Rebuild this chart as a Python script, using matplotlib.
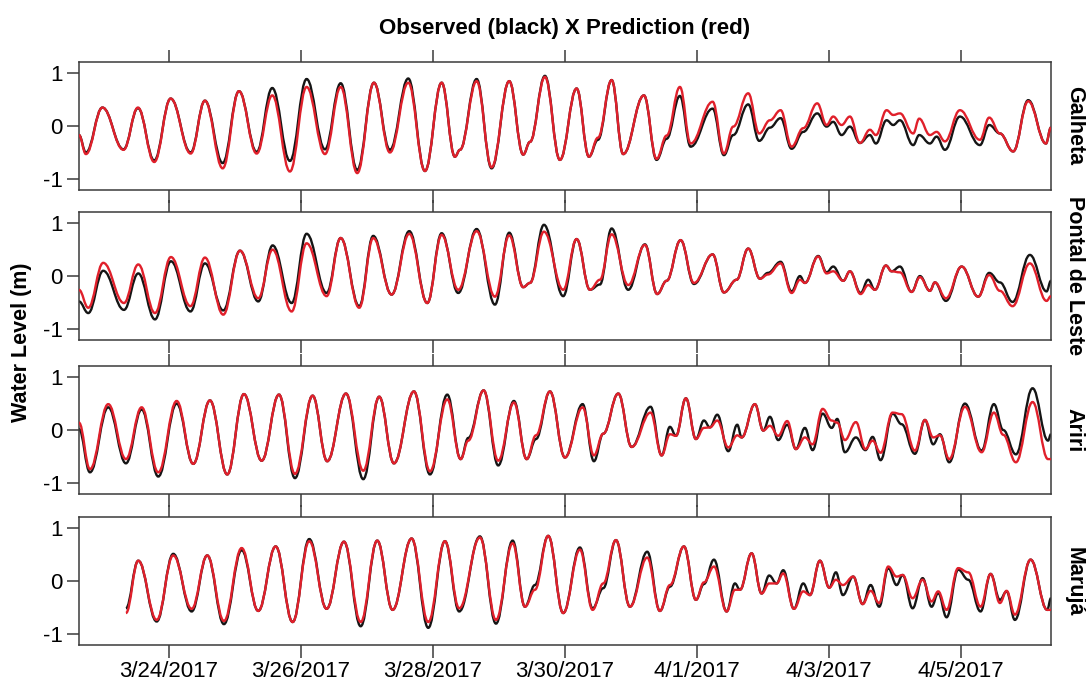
import matplotlib
matplotlib.use("Agg")
import matplotlib.pyplot as plt
import matplotlib.dates as mdates
from matplotlib.path import Path
from matplotlib.patches import PathPatch
from matplotlib.ticker import FixedLocator, FuncFormatter
from datetime import datetime, timedelta

plt.rcParams['font.family'] = ['Liberation Sans', 'DejaVu Sans']
plt.rcParams['axes.unicode_minus'] = False

t0 = datetime(2017, 3, 22)

# turning points of each record, time in days after 3/22/2017 00:00, level in m
galheta_t = [0.636, 0.742, 0.992, 1.311, 1.530, 1.777, 2.026, 2.329, 2.545, 2.814,
             3.061, 3.329, 3.565, 3.833, 4.086, 4.364, 4.602, 4.853, 5.106, 5.348,
             5.626, 5.879, 6.132, 6.333, 6.409, 6.662, 6.889, 7.156, 7.368, 7.470,
             7.697, 7.924, 8.177, 8.364, 8.500, 8.708, 8.883, 9.197, 9.389, 9.541,
             9.742, 9.905, 10.238, 10.409, 10.550, 10.777, 10.944, 11.106, 11.268, 11.435,
             11.611, 11.823, 11.965, 12.065, 12.192, 12.318, 12.470, 12.621, 12.712, 12.874,
             12.974, 13.076, 13.277, 13.368, 13.530, 13.632, 13.758, 13.985, 14.288, 14.429,
             14.591, 14.792, 15.020, 15.288, 15.364]
galheta_obs = [-0.17, -0.50, 0.35, -0.44, 0.34, -0.65, 0.52, -0.50, 0.48, -0.70,
               0.66, -0.49, 0.72, -0.66, 0.89, -0.44, 0.81, -0.83, 0.82, -0.45,
               0.90, -0.85, 0.82, -0.58, -0.45, 0.89, -0.80, 0.85, -0.54, -0.30,
               0.95, -0.64, 0.71, -0.58, -0.26, 0.87, -0.53, 0.58, -0.64, -0.24,
               0.57, -0.39, 0.33, -0.55, -0.17, 0.41, -0.28, -0.03, 0.15, -0.43,
               -0.11, 0.24, -0.01, 0.08, -0.17, -0.01, -0.32, -0.17, -0.33, 0.11,
               0.02, 0.11, -0.36, -0.17, -0.33, -0.20, -0.45, 0.18, -0.36, 0.02,
               -0.14, -0.48, 0.49, -0.33, -0.03]
galheta_pred = [-0.17, -0.53, 0.35, -0.45, 0.35, -0.68, 0.52, -0.52, 0.48, -0.80,
                0.66, -0.52, 0.58, -0.86, 0.74, -0.53, 0.74, -0.89, 0.82, -0.50,
                0.82, -0.85, 0.82, -0.58, -0.45, 0.85, -0.78, 0.85, -0.54, -0.30,
                0.93, -0.64, 0.71, -0.58, -0.22, 0.87, -0.53, 0.58, -0.62, -0.18,
                0.74, -0.33, 0.46, -0.52, -0.01, 0.62, -0.14, 0.11, 0.30, -0.39,
                -0.04, 0.43, 0.02, 0.18, 0.02, 0.18, -0.32, -0.07, -0.17, 0.30,
                0.21, 0.24, -0.14, 0.14, -0.17, -0.11, -0.29, 0.30, -0.26, 0.16,
                -0.14, -0.48, 0.47, -0.33, -0.03]

pontal_t = [0.636, 0.777, 1.004, 1.318, 1.535, 1.788, 2.030, 2.326, 2.545, 2.823,
            3.076, 3.353, 3.571, 3.859, 4.086, 4.389, 4.602, 4.883, 5.095, 5.374,
            5.641, 5.914, 6.132, 6.383, 6.662, 6.939, 7.156, 7.368, 7.470, 7.682,
            7.974, 8.177, 8.379, 8.530, 8.708, 8.959, 9.212, 9.398, 9.541, 9.753,
            9.955, 10.238, 10.409, 10.601, 10.777, 10.955, 11.076, 11.268, 11.435, 11.561,
            11.636, 11.838, 11.965, 12.065, 12.217, 12.318, 12.480, 12.595, 12.697, 12.864,
            12.950, 13.076, 13.253, 13.379, 13.530, 13.606, 13.773, 14.011, 14.262, 14.429,
            14.591, 14.783, 15.045, 15.298, 15.364]
pontal_obs = [-0.48, -0.70, 0.10, -0.64, 0.05, -0.82, 0.28, -0.67, 0.24, -0.65,
              0.48, -0.48, 0.58, -0.51, 0.80, -0.32, 0.72, -0.57, 0.76, -0.35,
              0.85, -0.51, 0.81, -0.32, 0.89, -0.54, 0.82, -0.21, -0.13, 0.97,
              -0.38, 0.70, -0.26, -0.16, 0.90, -0.26, 0.60, -0.34, -0.09, 0.68,
              -0.15, 0.41, -0.31, -0.07, 0.52, -0.05, 0.06, 0.27, -0.29, 0.00,
              -0.13, 0.38, 0.07, 0.18, -0.09, 0.09, -0.32, -0.07, -0.26, 0.20,
              0.09, 0.18, -0.30, 0.00, -0.28, -0.12, -0.47, 0.18, -0.39, 0.06,
              -0.12, -0.49, 0.40, -0.29, -0.09]
pontal_pred = [-0.26, -0.60, 0.25, -0.51, 0.22, -0.70, 0.36, -0.57, 0.35, -0.73,
               0.48, -0.42, 0.50, -0.67, 0.62, -0.38, 0.72, -0.60, 0.72, -0.35,
               0.80, -0.51, 0.78, -0.26, 0.85, -0.39, 0.77, -0.21, -0.13, 0.84,
               -0.26, 0.70, -0.26, -0.07, 0.79, -0.17, 0.59, -0.34, -0.09, 0.68,
               -0.13, 0.41, -0.31, -0.07, 0.52, -0.05, 0.03, 0.24, -0.32, -0.07,
               -0.13, 0.37, 0.05, 0.09, -0.09, 0.09, -0.34, -0.17, -0.26, 0.20,
               0.09, 0.07, -0.30, -0.02, -0.28, -0.12, -0.42, 0.18, -0.39, 0.02,
               -0.28, -0.57, 0.24, -0.47, -0.38]

ariri_t = [0.636, 0.803, 1.080, 1.348, 1.586, 1.838, 2.117, 2.368, 2.621, 2.883,
           3.136, 3.405, 3.667, 3.909, 4.177, 4.398, 4.682, 4.944, 5.186, 5.409,
           5.712, 5.955, 6.217, 6.420, 6.535, 6.768, 6.989, 7.227, 7.420, 7.561,
           7.773, 8.000, 8.268, 8.439, 8.580, 8.808, 9.011, 9.298, 9.465, 9.591,
           9.682, 9.833, 9.985, 10.106, 10.197, 10.308, 10.475, 10.611, 10.678, 10.879,
           11.005, 11.106, 11.232, 11.368, 11.500, 11.636, 11.753, 11.905, 12.042, 12.126,
           12.242, 12.409, 12.553, 12.662, 12.783, 12.965, 13.101, 13.303, 13.455, 13.580,
           13.682, 13.823, 14.061, 14.314, 14.500, 14.641, 14.833, 15.086, 15.320, 15.364]
ariri_obs = [0.02, -0.80, 0.43, -0.63, 0.39, -0.88, 0.50, -0.64, 0.56, -0.84,
             0.68, -0.58, 0.67, -0.91, 0.65, -0.59, 0.69, -0.93, 0.63, -0.63,
             0.73, -0.84, 0.67, -0.55, -0.15, 0.75, -0.67, 0.55, -0.55, -0.17,
             0.73, -0.52, 0.49, -0.59, -0.07, 0.69, -0.32, 0.44, -0.48, 0.06,
             -0.11, 0.60, -0.17, 0.18, 0.05, 0.29, -0.40, 0.10, -0.14, 0.49,
             -0.01, 0.25, -0.19, 0.10, -0.36, 0.04, -0.38, 0.31, 0.04, 0.21,
             -0.42, -0.14, -0.38, -0.13, -0.57, 0.31, 0.11, -0.45, 0.19, -0.27,
             -0.08, -0.61, 0.50, -0.39, 0.49, 0.00, -0.46, 0.79, -0.20, -0.08]
ariri_pred = [0.14, -0.74, 0.49, -0.55, 0.43, -0.80, 0.55, -0.64, 0.56, -0.84,
              0.68, -0.58, 0.67, -0.83, 0.65, -0.59, 0.69, -0.77, 0.63, -0.63,
              0.73, -0.78, 0.58, -0.55, -0.20, 0.75, -0.58, 0.52, -0.55, -0.10,
              0.73, -0.52, 0.43, -0.48, -0.07, 0.69, -0.32, 0.33, -0.48, -0.08,
              -0.11, 0.60, -0.17, 0.04, 0.05, 0.18, -0.33, -0.10, -0.14, 0.49,
              -0.01, 0.08, -0.11, 0.17, -0.36, -0.14, -0.27, 0.40, 0.18, 0.14,
              -0.19, 0.15, -0.36, -0.20, -0.43, 0.33, 0.30, -0.39, 0.19, -0.14,
              -0.10, -0.55, 0.44, -0.42, 0.33, -0.09, -0.61, 0.53, -0.55, -0.55]

maruja_t = [1.348, 1.535, 1.814, 2.065, 2.344, 2.580, 2.833, 3.102, 3.353, 3.617,
            3.874, 4.126, 4.389, 4.652, 4.905, 5.156, 5.389, 5.677, 5.929, 6.182,
            6.398, 6.712, 6.955, 7.208, 7.394, 7.545, 7.747, 7.974, 8.227, 8.420,
            8.580, 8.773, 8.985, 9.247, 9.439, 9.591, 9.803, 9.985, 10.106, 10.258,
            10.450, 10.576, 10.652, 10.829, 10.980, 11.095, 11.207, 11.308, 11.470, 11.611,
            11.712, 11.864, 12.005, 12.106, 12.212, 12.368, 12.511, 12.632, 12.762, 12.899,
            13.026, 13.117, 13.268, 13.420, 13.556, 13.656, 13.783, 13.959, 14.111, 14.298,
            14.450, 14.591, 14.692, 14.818, 15.056, 15.308, 15.364]
maruja_obs = [-0.51, 0.39, -0.76, 0.52, -0.57, 0.49, -0.81, 0.59, -0.56, 0.66,
              -0.77, 0.80, -0.52, 0.75, -0.85, 0.77, -0.54, 0.81, -0.88, 0.76,
              -0.57, 0.85, -0.80, 0.77, -0.48, -0.07, 0.86, -0.60, 0.64, -0.51,
              -0.13, 0.78, -0.48, 0.56, -0.56, -0.10, 0.66, -0.35, -0.05, 0.41,
              -0.57, -0.04, -0.16, 0.53, -0.23, 0.11, -0.04, 0.21, -0.52, -0.04,
              -0.26, 0.39, -0.12, 0.17, -0.26, 0.09, -0.43, -0.07, -0.48, 0.25,
              -0.07, 0.12, -0.51, 0.06, -0.48, -0.22, -0.68, 0.22, 0.03, -0.57,
              0.14, -0.35, -0.19, -0.73, 0.41, -0.54, -0.32]
maruja_pred = [-0.60, 0.39, -0.73, 0.49, -0.52, 0.49, -0.75, 0.63, -0.56, 0.66,
               -0.77, 0.76, -0.52, 0.75, -0.77, 0.77, -0.54, 0.81, -0.77, 0.76,
               -0.51, 0.83, -0.73, 0.72, -0.48, -0.16, 0.86, -0.60, 0.60, -0.54,
               -0.04, 0.78, -0.48, 0.45, -0.56, -0.07, 0.66, -0.35, -0.02, 0.28,
               -0.57, -0.16, -0.16, 0.53, -0.23, -0.04, -0.04, 0.15, -0.52, -0.19,
               -0.26, 0.39, -0.12, 0.03, -0.07, 0.09, -0.43, -0.18, -0.41, 0.28,
               0.09, 0.12, -0.32, 0.03, -0.38, -0.19, -0.54, 0.25, 0.17, -0.48,
               0.14, -0.41, -0.18, -0.63, 0.41, -0.54, -0.54]

stations = ["Galheta", "Pontal de Leste", "Ariri", "Marujá"]
series = [(galheta_t, galheta_obs, galheta_pred),
          (pontal_t, pontal_obs, pontal_pred),
          (ariri_t, ariri_obs, ariri_pred),
          (maruja_t, maruja_obs, maruja_pred)]

tick_dates = [datetime(2017, 3, 24), datetime(2017, 3, 26), datetime(2017, 3, 28),
              datetime(2017, 3, 30), datetime(2017, 4, 1), datetime(2017, 4, 3),
              datetime(2017, 4, 5)]
x_start = datetime(2017, 3, 22, 15, 16)
x_end = datetime(2017, 4, 6, 8, 44)


def tide_path(days, level, k=0.4):
    # smooth curve through the turning points, flat at each one
    x = [mdates.date2num(t0 + timedelta(days=d)) for d in days]
    verts = [(x[0], level[0])]
    codes = [Path.MOVETO]
    for i in range(1, len(x)):
        dx = x[i] - x[i - 1]
        verts += [(x[i - 1] + k * dx, level[i - 1]), (x[i] - k * dx, level[i]), (x[i], level[i])]
        codes += [Path.CURVE4] * 3
    return Path(verts, codes)


fig = plt.figure(figsize=(10.86, 6.84), dpi=100)
bottoms = [0.7222, 0.5029, 0.2778, 0.0566]
edge = '#3a3a3a'

for i, (name, (t, obs, pred), b) in enumerate(zip(stations, series, bottoms)):
    ax = fig.add_axes([0.0727, b, 0.895, 0.187])
    ax.add_patch(PathPatch(tide_path(t, obs), fill=False, edgecolor='#151515', lw=1.7, zorder=2))
    ax.add_patch(PathPatch(tide_path(t, pred), fill=False, edgecolor='#e0202b', lw=1.7, zorder=3))
    ax.set_xlim(mdates.date2num(x_start), mdates.date2num(x_end))
    ax.set_ylim(-1.21, 1.21)
    ax.set_yticks([-1, 0, 1])
    ax.xaxis.set_major_locator(FixedLocator(mdates.date2num(tick_dates)))
    ax.xaxis.set_major_formatter(FuncFormatter(
        lambda v, p: "{0.month}/{0.day}/{0.year}".format(mdates.num2date(v))))
    ax.tick_params(axis='x', which='both', direction='out', length=9, width=1.1,
                   color=edge, top=True, bottom=True, labelbottom=(i == 3), labelsize=16, pad=2)
    ax.tick_params(axis='y', direction='out', length=8.5, width=1.1, color=edge,
                   labelsize=16, pad=3)
    for s in ax.spines.values():
        s.set_color(edge)
        s.set_linewidth(1.1)
    ax.text(1.024, 0.5, name, transform=ax.transAxes, rotation=-90, ha='center', va='center',
            fontsize=15.5, fontweight='bold')
    if i == 0:
        ax.set_title("Observed (black) X Prediction (red)", fontsize=16, fontweight='bold', pad=20)

fig.text(0.02, 0.5, "Water Level (m)", rotation=90, ha='center', va='center',
         fontsize=15.5, fontweight='bold')

fig.savefig("out.png", dpi=100)
